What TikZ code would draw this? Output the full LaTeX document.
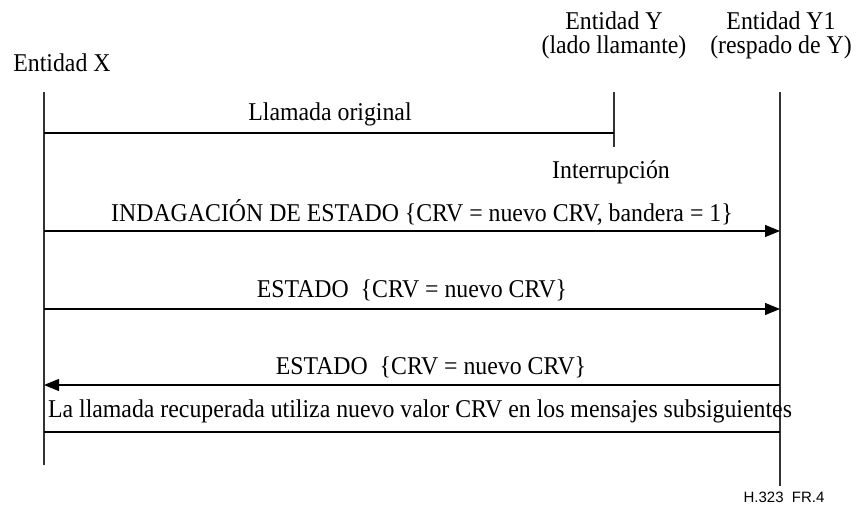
\documentclass[tikz,border=0pt]{standalone}
\usepackage{fontspec}
\setmainfont{Liberation Serif}[FakeStretch=0.93]
\setsansfont{Liberation Sans}
\usetikzlibrary{arrows.meta}
\tikzset{lbl/.style={font=\fontsize{12.8}{12}\selectfont,inner sep=0pt,align=center},life/.style={line width=0.6pt,draw=black!80},msg/.style={line width=0.6pt,-{Triangle[length=7.5pt,width=6pt]}},plain/.style={line width=0.6pt}}

\begin{document}
\begin{tikzpicture}[x=0.5pt,y=-0.5pt]
\useasboundingbox (0,0) rectangle (868,508);
% entidades
\node[lbl] (entX) at (62,63) {Entidad X};
\node[lbl] (entY) at (614,35) {Entidad Y\\(lado llamante)};
\node[lbl] (entY1) at (781,35) {Entidad Y1\\(respado de Y)};
% lineas de vida
\coordinate (xTop) at (44,92);
\coordinate (xBot) at (44,465);
\coordinate (yTop) at (614,92);
\coordinate (yBot) at (614,147);
\coordinate (y1Top) at (780,92);
\coordinate (y1Bot) at (780,486);
\draw[life] (xTop)--(xBot);
\draw[life] (yTop)--(yBot);
\draw[life] (y1Top)--(y1Bot);
% mensajes
\coordinate (xOrig) at (44,133);
\coordinate (yOrig) at (614,133);
\coordinate (xInd) at (44,231);
\coordinate (y1Ind) at (780,231);
\coordinate (xEst) at (44,309);
\coordinate (y1Est) at (780,309);
\coordinate (xResp) at (44,385);
\coordinate (y1Resp) at (780,385);
\coordinate (xRec) at (44,432);
\coordinate (y1Rec) at (780,432);
\node[lbl] (llamOrig) at (330,114) {Llamada original};
\node[lbl] (interr) at (611,172) {Interrupción};
\node[lbl] (indag) at (422,212) {INDAGACIÓN DE ESTADO \{CRV = nuevo CRV, bandera = 1\}};
\node[lbl] (estado) at (412,290) {ESTADO\ \ \{CRV = nuevo CRV\}};
\node[lbl] (estResp) at (431,367) {ESTADO\ \ \{CRV = nuevo CRV\}};
\node[lbl] (recup) at (420,411) {La llamada recuperada utiliza nuevo valor CRV en los mensajes subsiguientes};
\draw[plain] (xOrig)--(yOrig);
\draw[msg] (xInd)--(y1Ind);
\draw[msg] (xEst)--(y1Est);
\draw[msg] (y1Resp)--(xResp);
\draw[plain] (xRec)--(y1Rec);
\node[font=\fontsize{7.5}{9}\sffamily,inner sep=0pt] (figId) at (784,497) {H.323\ \ FR.4};
\end{tikzpicture}
\end{document}
